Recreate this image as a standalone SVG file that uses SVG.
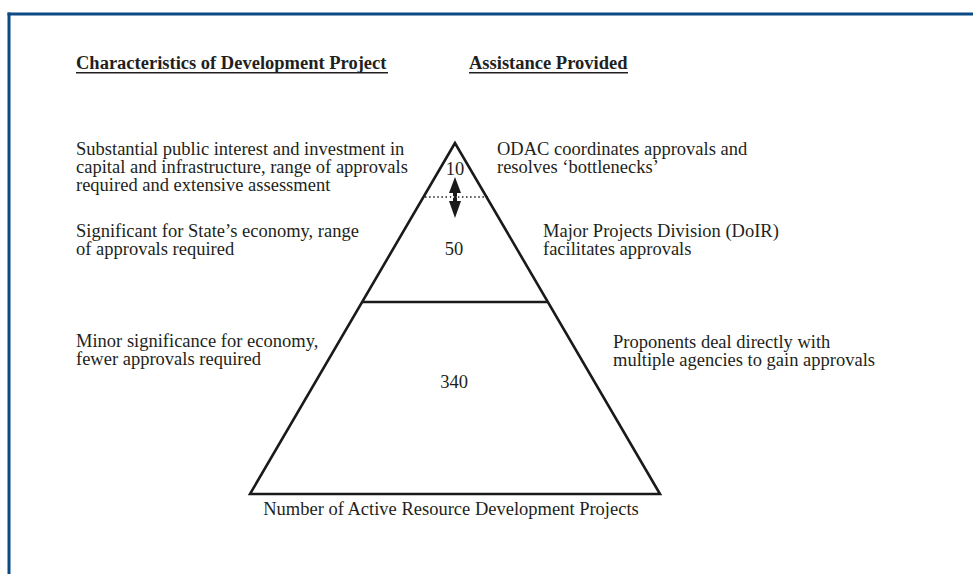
<svg xmlns="http://www.w3.org/2000/svg" width="973" height="574" viewBox="0 0 973 574">
  <style>
    text { font-family: "Liberation Serif", "Times New Roman", serif; font-size: 18.5px; fill: #231f20; }
    .head { font-weight: bold; }
    .mid { text-anchor: middle; }
    .frame { stroke: #0b4a84; stroke-width: 3; fill: none; }
    .tri { stroke: #1a1a1a; stroke-width: 2.6; fill: none; stroke-linejoin: miter; }
  </style>
  <rect width="973" height="574" fill="#ffffff"/>

  <!-- frame edges -->
  <g id="frame">
    <line class="frame" x1="7.5" y1="14" x2="973" y2="14"/>
    <line class="frame" x1="9" y1="12.5" x2="9" y2="574"/>
  </g>

  <!-- column headings -->
  <g id="headings">
    <text class="head" x="76" y="69">Characteristics of Development Project</text>
    <line x1="76" y1="72.8" x2="388" y2="72.8" stroke="#231f20" stroke-width="1.4"/>
    <text class="head" x="469" y="69">Assistance Provided</text>
    <line x1="469" y1="72.8" x2="628" y2="72.8" stroke="#231f20" stroke-width="1.4"/>
  </g>

  <!-- pyramid -->
  <g id="pyramid">
    <polygon class="tri" points="455,143 250,494 660,494"/>
    <line class="tri" x1="362" y1="302" x2="548" y2="302"/>
    <line x1="425" y1="197" x2="488" y2="197" stroke="#1a1a1a" stroke-width="1.3" stroke-dasharray="1.5 2.6"/>
  </g>

  <!-- tier between top and middle -->
  <g id="connectors">
    <path d="M455,177 L461,193 L457,193 L457,201 L461,201 L455,218 L449,201 L453,201 L453,193 L449,193 Z" fill="#1a1a1a"/>
    <line x1="449" y1="197" x2="462" y2="197" stroke="#ffffff" stroke-width="1.3" stroke-dasharray="1.5 2.6" stroke-dashoffset="0.5"/>
  </g>

  <g id="tier-top">
    <text class="mid" x="455" y="175">10</text>
  </g>
  <g id="tier-middle">
    <text class="mid" x="454" y="255">50</text>
  </g>
  <g id="tier-base">
    <text class="mid" x="454" y="388">340</text>
  </g>

  <!-- project characteristics -->
  <g id="char-top">
    <text x="76" y="155">Substantial public interest and investment in</text>
    <text x="76" y="173">capital and infrastructure, range of approvals</text>
    <text x="76" y="191">required and extensive assessment</text>
  </g>
  <g id="char-middle">
    <text x="76" y="237">Significant for State’s economy, range</text>
    <text x="76" y="255">of approvals required</text>
  </g>
  <g id="char-base">
    <text x="76" y="347">Minor significance for economy,</text>
    <text x="76" y="365">fewer approvals required</text>
  </g>

  <!-- assistance provided -->
  <g id="assist-top">
    <text x="497" y="155">ODAC coordinates approvals and</text>
    <text x="497" y="173">resolves ‘bottlenecks’</text>
  </g>
  <g id="assist-middle">
    <text x="543" y="237">Major Projects Division (DoIR)</text>
    <text x="543" y="255">facilitates approvals</text>
  </g>
  <g id="assist-base">
    <text x="613" y="348">Proponents deal directly with</text>
    <text x="613" y="366">multiple agencies to gain approvals</text>
  </g>

  <g id="axis-label">
    <text class="mid" x="451" y="515">Number of Active Resource Development Projects</text>
  </g>
</svg>
